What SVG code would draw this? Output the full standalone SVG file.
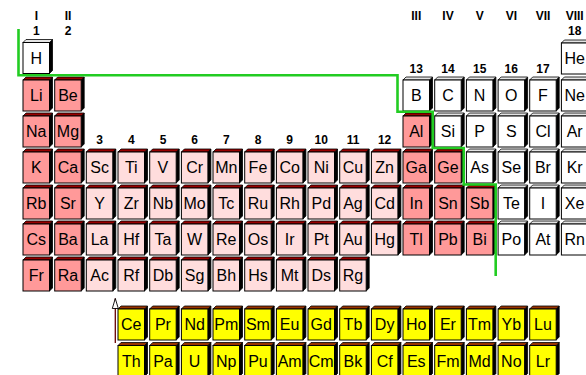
<svg xmlns="http://www.w3.org/2000/svg" xmlns:xlink="http://www.w3.org/1999/xlink" width="586" height="375" viewBox="0 0 586 375">
<style>
.a{fill:#FF9999;color:#990000}
.t{fill:#FFDDDD;color:#990000}
.w{fill:#FFFFFF;color:#E4E4E4}
.y{fill:#FFFF00;color:#993300}
.cell text{font-family:"Liberation Sans",Arial,sans-serif;font-size:16px;text-anchor:middle;fill:#000}
.lbl{font-family:"Liberation Sans",Arial,sans-serif;font-size:12px;font-weight:bold;text-anchor:middle;fill:#000}
</style>
<defs>
<g id="box">
<path d="M26.5,3 L29.5,0 V31 L26.5,34 Z" fill="#000" stroke="#000" stroke-width="0.8"/>
<path d="M0,3 L3,0 H29.5 L26.5,3 Z" fill="currentColor" stroke="#000" stroke-width="0.8"/>
<rect x="0" y="3" width="26.5" height="31" stroke="#000" stroke-width="1"/>
</g>
<marker id="openArrow" viewBox="0 0 12 8" refX="11" refY="4" markerWidth="12" markerHeight="8" markerUnits="userSpaceOnUse" orient="auto">
<path d="M1,1 L11,4 L1,7 Z" fill="#fff" stroke="#000" stroke-width="0.9"/>
</marker>
</defs>
<rect width="586" height="375" fill="#fff"/>
<g id="labels">
<text class="lbl" x="36.3" y="20">I</text><text class="lbl" x="36.3" y="35">1</text>
<text class="lbl" x="68" y="20">II</text><text class="lbl" x="68" y="35">2</text>
<text class="lbl" x="416.3" y="20">III</text><text class="lbl" x="448" y="20">IV</text><text class="lbl" x="479.7" y="20">V</text><text class="lbl" x="511.3" y="20">VI</text><text class="lbl" x="543" y="20">VII</text><text class="lbl" x="574.7" y="20">VIII</text>
<text class="lbl" x="574.7" y="35">18</text>
<text class="lbl" x="416.3" y="73">13</text><text class="lbl" x="448" y="73">14</text><text class="lbl" x="479.7" y="73">15</text><text class="lbl" x="511.3" y="73">16</text><text class="lbl" x="543" y="73">17</text>
<text class="lbl" x="99.6" y="143.5">3</text><text class="lbl" x="131.3" y="143.5">4</text><text class="lbl" x="163" y="143.5">5</text><text class="lbl" x="194.6" y="143.5">6</text><text class="lbl" x="226.3" y="143.5">7</text><text class="lbl" x="258" y="143.5">8</text><text class="lbl" x="289.6" y="143.5">9</text><text class="lbl" x="321.3" y="143.5">10</text><text class="lbl" x="353" y="143.5">11</text><text class="lbl" x="384.6" y="143.5">12</text>
</g>
<g id="cells">
<g id="el-H" class="cell" transform="translate(23,39.5)"><use href="#box" class="w"/><text x="13.25" y="24">H</text></g>
<g id="el-He" class="cell" transform="translate(561.4,40)"><use href="#box" class="w"/><text x="13.25" y="24">He</text></g>

<g id="el-Li" class="cell" transform="translate(23,77)"><use href="#box" class="a"/><text x="13.25" y="24">Li</text></g>
<g id="el-Be" class="cell" transform="translate(54.7,77)"><use href="#box" class="a"/><text x="13.25" y="24">Be</text></g>
<g id="el-B" class="cell" transform="translate(403,77)"><use href="#box" class="w"/><text x="13.25" y="24">B</text></g>
<g id="el-C" class="cell" transform="translate(434.7,77)"><use href="#box" class="w"/><text x="13.25" y="24">C</text></g>
<g id="el-N" class="cell" transform="translate(466.4,77)"><use href="#box" class="w"/><text x="13.25" y="24">N</text></g>
<g id="el-O" class="cell" transform="translate(498.1,77)"><use href="#box" class="w"/><text x="13.25" y="24">O</text></g>
<g id="el-F" class="cell" transform="translate(529.7,77)"><use href="#box" class="w"/><text x="13.25" y="24">F</text></g>
<g id="el-Ne" class="cell" transform="translate(561.4,77)"><use href="#box" class="w"/><text x="13.25" y="24">Ne</text></g>

<g id="el-Na" class="cell" transform="translate(23,113)"><use href="#box" class="a"/><text x="13.25" y="24">Na</text></g>
<g id="el-Mg" class="cell" transform="translate(54.7,113)"><use href="#box" class="a"/><text x="13.25" y="24">Mg</text></g>
<g id="el-Al" class="cell" transform="translate(403,113)"><use href="#box" class="a"/><text x="13.25" y="24">Al</text></g>
<g id="el-Si" class="cell" transform="translate(434.7,113)"><use href="#box" class="w"/><text x="13.25" y="24">Si</text></g>
<g id="el-P" class="cell" transform="translate(466.4,113)"><use href="#box" class="w"/><text x="13.25" y="24">P</text></g>
<g id="el-S" class="cell" transform="translate(498.1,113)"><use href="#box" class="w"/><text x="13.25" y="24">S</text></g>
<g id="el-Cl" class="cell" transform="translate(529.7,113)"><use href="#box" class="w"/><text x="13.25" y="24">Cl</text></g>
<g id="el-Ar" class="cell" transform="translate(561.4,113)"><use href="#box" class="w"/><text x="13.25" y="24">Ar</text></g>

<g id="el-K" class="cell" transform="translate(23,149)"><use href="#box" class="a"/><text x="13.25" y="24">K</text></g>
<g id="el-Ca" class="cell" transform="translate(54.7,149)"><use href="#box" class="a"/><text x="13.25" y="24">Ca</text></g>
<g id="el-Sc" class="cell" transform="translate(86.3,149)"><use href="#box" class="t"/><text x="13.25" y="24">Sc</text></g>
<g id="el-Ti" class="cell" transform="translate(118,149)"><use href="#box" class="t"/><text x="13.25" y="24">Ti</text></g>
<g id="el-V" class="cell" transform="translate(149.7,149)"><use href="#box" class="t"/><text x="13.25" y="24">V</text></g>
<g id="el-Cr" class="cell" transform="translate(181.4,149)"><use href="#box" class="t"/><text x="13.25" y="24">Cr</text></g>
<g id="el-Mn" class="cell" transform="translate(213,149)"><use href="#box" class="t"/><text x="13.25" y="24">Mn</text></g>
<g id="el-Fe" class="cell" transform="translate(244.7,149)"><use href="#box" class="t"/><text x="13.25" y="24">Fe</text></g>
<g id="el-Co" class="cell" transform="translate(276.4,149)"><use href="#box" class="t"/><text x="13.25" y="24">Co</text></g>
<g id="el-Ni" class="cell" transform="translate(308,149)"><use href="#box" class="t"/><text x="13.25" y="24">Ni</text></g>
<g id="el-Cu" class="cell" transform="translate(339.7,149)"><use href="#box" class="t"/><text x="13.25" y="24">Cu</text></g>
<g id="el-Zn" class="cell" transform="translate(371.4,149)"><use href="#box" class="t"/><text x="13.25" y="24">Zn</text></g>
<g id="el-Ga" class="cell" transform="translate(403,149)"><use href="#box" class="a"/><text x="13.25" y="24">Ga</text></g>
<g id="el-Ge" class="cell" transform="translate(434.7,149)"><use href="#box" class="a"/><text x="13.25" y="24">Ge</text></g>
<g id="el-As" class="cell" transform="translate(466.4,149)"><use href="#box" class="w"/><text x="13.25" y="24">As</text></g>
<g id="el-Se" class="cell" transform="translate(498.1,149)"><use href="#box" class="w"/><text x="13.25" y="24">Se</text></g>
<g id="el-Br" class="cell" transform="translate(529.7,149)"><use href="#box" class="w"/><text x="13.25" y="24">Br</text></g>
<g id="el-Kr" class="cell" transform="translate(561.4,149)"><use href="#box" class="w"/><text x="13.25" y="24">Kr</text></g>

<g id="el-Rb" class="cell" transform="translate(23,185)"><use href="#box" class="a"/><text x="13.25" y="24">Rb</text></g>
<g id="el-Sr" class="cell" transform="translate(54.7,185)"><use href="#box" class="a"/><text x="13.25" y="24">Sr</text></g>
<g id="el-Y" class="cell" transform="translate(86.3,185)"><use href="#box" class="t"/><text x="13.25" y="24">Y</text></g>
<g id="el-Zr" class="cell" transform="translate(118,185)"><use href="#box" class="t"/><text x="13.25" y="24">Zr</text></g>
<g id="el-Nb" class="cell" transform="translate(149.7,185)"><use href="#box" class="t"/><text x="13.25" y="24">Nb</text></g>
<g id="el-Mo" class="cell" transform="translate(181.4,185)"><use href="#box" class="t"/><text x="13.25" y="24">Mo</text></g>
<g id="el-Tc" class="cell" transform="translate(213,185)"><use href="#box" class="t"/><text x="13.25" y="24">Tc</text></g>
<g id="el-Ru" class="cell" transform="translate(244.7,185)"><use href="#box" class="t"/><text x="13.25" y="24">Ru</text></g>
<g id="el-Rh" class="cell" transform="translate(276.4,185)"><use href="#box" class="t"/><text x="13.25" y="24">Rh</text></g>
<g id="el-Pd" class="cell" transform="translate(308,185)"><use href="#box" class="t"/><text x="13.25" y="24">Pd</text></g>
<g id="el-Ag" class="cell" transform="translate(339.7,185)"><use href="#box" class="t"/><text x="13.25" y="24">Ag</text></g>
<g id="el-Cd" class="cell" transform="translate(371.4,185)"><use href="#box" class="t"/><text x="13.25" y="24">Cd</text></g>
<g id="el-In" class="cell" transform="translate(403,185)"><use href="#box" class="a"/><text x="13.25" y="24">In</text></g>
<g id="el-Sn" class="cell" transform="translate(434.7,185)"><use href="#box" class="a"/><text x="13.25" y="24">Sn</text></g>
<g id="el-Sb" class="cell" transform="translate(466.4,185)"><use href="#box" class="a"/><text x="13.25" y="24">Sb</text></g>
<g id="el-Te" class="cell" transform="translate(498.1,185)"><use href="#box" class="w"/><text x="13.25" y="24">Te</text></g>
<g id="el-I" class="cell" transform="translate(529.7,185)"><use href="#box" class="w"/><text x="13.25" y="24">I</text></g>
<g id="el-Xe" class="cell" transform="translate(561.4,185)"><use href="#box" class="w"/><text x="13.25" y="24">Xe</text></g>

<g id="el-Cs" class="cell" transform="translate(23,221)"><use href="#box" class="a"/><text x="13.25" y="24">Cs</text></g>
<g id="el-Ba" class="cell" transform="translate(54.7,221)"><use href="#box" class="a"/><text x="13.25" y="24">Ba</text></g>
<g id="el-La" class="cell" transform="translate(86.3,221)"><use href="#box" class="t"/><text x="13.25" y="24">La</text></g>
<g id="el-Hf" class="cell" transform="translate(118,221)"><use href="#box" class="t"/><text x="13.25" y="24">Hf</text></g>
<g id="el-Ta" class="cell" transform="translate(149.7,221)"><use href="#box" class="t"/><text x="13.25" y="24">Ta</text></g>
<g id="el-W" class="cell" transform="translate(181.4,221)"><use href="#box" class="t"/><text x="13.25" y="24">W</text></g>
<g id="el-Re" class="cell" transform="translate(213,221)"><use href="#box" class="t"/><text x="13.25" y="24">Re</text></g>
<g id="el-Os" class="cell" transform="translate(244.7,221)"><use href="#box" class="t"/><text x="13.25" y="24">Os</text></g>
<g id="el-Ir" class="cell" transform="translate(276.4,221)"><use href="#box" class="t"/><text x="13.25" y="24">Ir</text></g>
<g id="el-Pt" class="cell" transform="translate(308,221)"><use href="#box" class="t"/><text x="13.25" y="24">Pt</text></g>
<g id="el-Au" class="cell" transform="translate(339.7,221)"><use href="#box" class="t"/><text x="13.25" y="24">Au</text></g>
<g id="el-Hg" class="cell" transform="translate(371.4,221)"><use href="#box" class="t"/><text x="13.25" y="24">Hg</text></g>
<g id="el-Tl" class="cell" transform="translate(403,221)"><use href="#box" class="a"/><text x="13.25" y="24">Tl</text></g>
<g id="el-Pb" class="cell" transform="translate(434.7,221)"><use href="#box" class="a"/><text x="13.25" y="24">Pb</text></g>
<g id="el-Bi" class="cell" transform="translate(466.4,221)"><use href="#box" class="a"/><text x="13.25" y="24">Bi</text></g>
<g id="el-Po" class="cell" transform="translate(498.1,221)"><use href="#box" class="w"/><text x="13.25" y="24">Po</text></g>
<g id="el-At" class="cell" transform="translate(529.7,221)"><use href="#box" class="w"/><text x="13.25" y="24">At</text></g>
<g id="el-Rn" class="cell" transform="translate(561.4,221)"><use href="#box" class="w"/><text x="13.25" y="24">Rn</text></g>

<g id="el-Fr" class="cell" transform="translate(23,257)"><use href="#box" class="a"/><text x="13.25" y="24">Fr</text></g>
<g id="el-Ra" class="cell" transform="translate(54.7,257)"><use href="#box" class="a"/><text x="13.25" y="24">Ra</text></g>
<g id="el-Ac" class="cell" transform="translate(86.3,257)"><use href="#box" class="t"/><text x="13.25" y="24">Ac</text></g>
<g id="el-Rf" class="cell" transform="translate(118,257)"><use href="#box" class="t"/><text x="13.25" y="24">Rf</text></g>
<g id="el-Db" class="cell" transform="translate(149.7,257)"><use href="#box" class="t"/><text x="13.25" y="24">Db</text></g>
<g id="el-Sg" class="cell" transform="translate(181.4,257)"><use href="#box" class="t"/><text x="13.25" y="24">Sg</text></g>
<g id="el-Bh" class="cell" transform="translate(213,257)"><use href="#box" class="t"/><text x="13.25" y="24">Bh</text></g>
<g id="el-Hs" class="cell" transform="translate(244.7,257)"><use href="#box" class="t"/><text x="13.25" y="24">Hs</text></g>
<g id="el-Mt" class="cell" transform="translate(276.4,257)"><use href="#box" class="t"/><text x="13.25" y="24">Mt</text></g>
<g id="el-Ds" class="cell" transform="translate(308,257)"><use href="#box" class="t"/><text x="13.25" y="24">Ds</text></g>
<g id="el-Rg" class="cell" transform="translate(339.7,257)"><use href="#box" class="t"/><text x="13.25" y="24">Rg</text></g>

<g id="el-Ce" class="cell" transform="translate(118,306)"><use href="#box" class="y"/><text x="13.25" y="24">Ce</text></g>
<g id="el-Pr" class="cell" transform="translate(149.7,306)"><use href="#box" class="y"/><text x="13.25" y="24">Pr</text></g>
<g id="el-Nd" class="cell" transform="translate(181.4,306)"><use href="#box" class="y"/><text x="13.25" y="24">Nd</text></g>
<g id="el-Pm" class="cell" transform="translate(213,306)"><use href="#box" class="y"/><text x="13.25" y="24">Pm</text></g>
<g id="el-Sm" class="cell" transform="translate(244.7,306)"><use href="#box" class="y"/><text x="13.25" y="24">Sm</text></g>
<g id="el-Eu" class="cell" transform="translate(276.4,306)"><use href="#box" class="y"/><text x="13.25" y="24">Eu</text></g>
<g id="el-Gd" class="cell" transform="translate(308,306)"><use href="#box" class="y"/><text x="13.25" y="24">Gd</text></g>
<g id="el-Tb" class="cell" transform="translate(339.7,306)"><use href="#box" class="y"/><text x="13.25" y="24">Tb</text></g>
<g id="el-Dy" class="cell" transform="translate(371.4,306)"><use href="#box" class="y"/><text x="13.25" y="24">Dy</text></g>
<g id="el-Ho" class="cell" transform="translate(403,306)"><use href="#box" class="y"/><text x="13.25" y="24">Ho</text></g>
<g id="el-Er" class="cell" transform="translate(434.7,306)"><use href="#box" class="y"/><text x="13.25" y="24">Er</text></g>
<g id="el-Tm" class="cell" transform="translate(466.4,306)"><use href="#box" class="y"/><text x="13.25" y="24">Tm</text></g>
<g id="el-Yb" class="cell" transform="translate(498.1,306)"><use href="#box" class="y"/><text x="13.25" y="24">Yb</text></g>
<g id="el-Lu" class="cell" transform="translate(529.7,306)"><use href="#box" class="y"/><text x="13.25" y="24">Lu</text></g>

<g id="el-Th" class="cell" transform="translate(118,342.5)"><use href="#box" class="y"/><text x="13.25" y="24">Th</text></g>
<g id="el-Pa" class="cell" transform="translate(149.7,342.5)"><use href="#box" class="y"/><text x="13.25" y="24">Pa</text></g>
<g id="el-U" class="cell" transform="translate(181.4,342.5)"><use href="#box" class="y"/><text x="13.25" y="24">U</text></g>
<g id="el-Np" class="cell" transform="translate(213,342.5)"><use href="#box" class="y"/><text x="13.25" y="24">Np</text></g>
<g id="el-Pu" class="cell" transform="translate(244.7,342.5)"><use href="#box" class="y"/><text x="13.25" y="24">Pu</text></g>
<g id="el-Am" class="cell" transform="translate(276.4,342.5)"><use href="#box" class="y"/><text x="13.25" y="24">Am</text></g>
<g id="el-Cm" class="cell" transform="translate(308,342.5)"><use href="#box" class="y"/><text x="13.25" y="24">Cm</text></g>
<g id="el-Bk" class="cell" transform="translate(339.7,342.5)"><use href="#box" class="y"/><text x="13.25" y="24">Bk</text></g>
<g id="el-Cf" class="cell" transform="translate(371.4,342.5)"><use href="#box" class="y"/><text x="13.25" y="24">Cf</text></g>
<g id="el-Es" class="cell" transform="translate(403,342.5)"><use href="#box" class="y"/><text x="13.25" y="24">Es</text></g>
<g id="el-Fm" class="cell" transform="translate(434.7,342.5)"><use href="#box" class="y"/><text x="13.25" y="24">Fm</text></g>
<g id="el-Md" class="cell" transform="translate(466.4,342.5)"><use href="#box" class="y"/><text x="13.25" y="24">Md</text></g>
<g id="el-No" class="cell" transform="translate(498.1,342.5)"><use href="#box" class="y"/><text x="13.25" y="24">No</text></g>
<g id="el-Lr" class="cell" transform="translate(529.7,342.5)"><use href="#box" class="y"/><text x="13.25" y="24">Lr</text></g>
</g>
<path id="metal-boundary" d="M18.5,29 V75.3 H397.5 V111.7 H432.7 V148 H463.7 V184.5 H495.7 V276" fill="none" stroke="#22CC22" stroke-width="2.6"/>
<g id="connectors">
<path d="M115.3,343 V298.5" fill="none" stroke="#660000" stroke-width="1.3" marker-end="url(#openArrow)"/>
</g>
</svg>
